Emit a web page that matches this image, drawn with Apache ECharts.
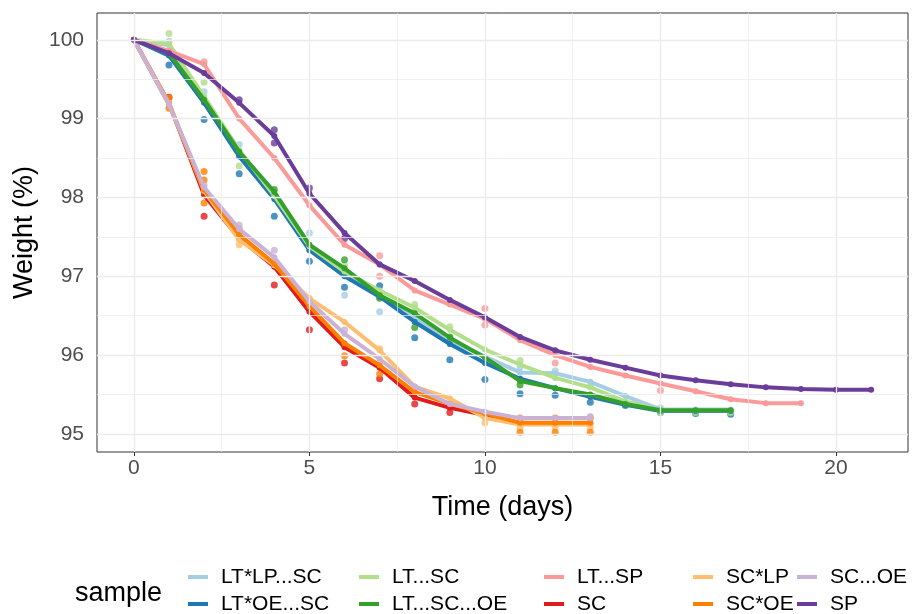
<!DOCTYPE html>
<html><head><meta charset="utf-8">
<script src="https://cdn.jsdelivr.net/npm/echarts@6/dist/echarts.min.js"></script>
<style>html,body{margin:0;padding:0;background:#fff}#c{width:922px;height:614px}</style>
</head><body><div id="c"></div>
<script>
// ---- data ----
const sampleNames = ['LT*LP...SC','LT*OE...SC','LT...SC','LT...SC...OE','LT...SP','SC','SC*LP','SC*OE','SC...OE','SP'];
const sampleColors = ['#A6CEE3','#1F78B4','#B2DF8A','#33A02C','#FB9A99','#E31A1C','#FDBF6F','#FF7F00','#CAB2D6','#6A3D9A'];

const daysSC = [0,1,2,3,4,5,6,7,8,9,10,11,12,13];
const daysLT = [0,1,2,3,4,5,6,7,8,9,10,11,12,13,14,15,16,17];
const daysLTSP = [0,1,2,3,4,5,6,7,8,9,10,11,12,13,14,15,16,17,18,19];
const daysSP = [0,1,2,3,4,5,6,7,8,9,10,11,12,13,14,15,16,17,18,19,20,21];

// mean weight (%) lines
const meanLTLPSC = [100,99.93,99.26,98.56,98.00,97.37,97.04,96.76,96.47,96.19,95.98,95.78,95.77,95.66,95.48,95.31,95.31,95.31];
const meanLTOESC = [100,99.80,99.20,98.52,97.98,97.33,97.00,96.74,96.42,96.14,95.90,95.70,95.58,95.47,95.37,95.29,95.29,95.29];
const meanLTSC   = [100,99.95,99.28,98.60,98.02,97.38,97.06,96.82,96.60,96.32,96.07,95.88,95.71,95.59,95.41,95.30,95.30,95.30];
const meanLTSCOE = [100,99.83,99.24,98.58,98.07,97.40,97.10,96.76,96.53,96.22,95.97,95.67,95.58,95.50,95.38,95.30,95.30,95.30];
const meanLTSP   = [100,99.86,99.69,99.00,98.50,97.90,97.40,97.15,96.82,96.64,96.46,96.19,96.00,95.85,95.74,95.64,95.54,95.44,95.39,95.39];
const meanSC     = [100,99.20,98.03,97.48,97.12,96.55,96.10,95.84,95.46,95.33,95.24,95.14,95.13,95.13];
const meanSCLP   = [100,99.20,98.08,97.46,97.14,96.72,96.42,96.06,95.60,95.45,95.20,95.12,95.12,95.12];
const meanSCOE   = [100,99.18,98.10,97.53,97.16,96.62,96.15,95.87,95.53,95.38,95.26,95.14,95.14,95.14];
const meanSCdOE  = [100,99.18,98.13,97.60,97.24,96.68,96.27,95.95,95.60,95.38,95.28,95.20,95.20,95.20];
const meanSP     = [100,99.83,99.58,99.20,98.78,98.05,97.55,97.15,96.94,96.70,96.48,96.23,96.06,95.94,95.84,95.74,95.68,95.63,95.59,95.57,95.56,95.56];

// visible replicate points [day, weight]
const dotsLTLPSC = [[1,99.98],[2,99.34],[3,98.67],[3,98.57],[5,97.55],[6,96.76],[7,96.55],[11,95.85],[12,95.80],[13,95.60],[15,95.33]];
const dotsLTOESC = [[1,99.68],[2,98.99],[3,98.30],[4,97.76],[5,97.19],[6,96.86],[7,96.88],[8,96.22],[9,95.94],[10,95.69],[11,95.51],[12,95.49],[13,95.40],[14,95.36],[15,95.27],[16,95.26],[17,95.25]];
const dotsLTSC   = [[1,100.08],[2,99.46],[3,98.40],[6,97.14],[8,96.64],[9,96.36],[11,95.93],[15,95.27],[16,95.27],[17,95.27]];
const dotsLTSCOE = [[4,98.10],[6,97.21],[7,96.72],[8,96.35],[9,96.23],[11,95.62]];
const dotsLTSP   = [[2,99.72],[7,97.26],[7,97.00],[10,96.59],[10,96.38],[12,95.90],[15,95.55]];
const dotsSC     = [[1,99.27],[2,97.76],[4,96.89],[5,96.32],[6,95.90],[7,95.70],[8,95.38],[9,95.27]];
const dotsSCLP   = [[3,97.40],[5,96.72],[7,96.08],[10,95.14],[11,95.08],[12,95.08],[13,95.08]];
const dotsSCOE   = [[1,99.26],[1,99.13],[2,98.33],[2,98.22],[2,97.93],[3,97.60],[6,95.99],[7,95.76],[11,95.02],[12,95.02],[13,95.02],[11,95.20],[12,95.20],[13,95.20]];
const dotsSCdOE  = [[2,98.15],[3,97.65],[4,97.33],[6,96.32],[13,95.22]];
const dotsSP     = [[3,99.24],[4,98.86],[4,98.69],[5,98.12],[6,97.48]];

const xMajor = [0,5,10,15,20];
const xMinor = [2.5,7.5,12.5,17.5];
const yMajor = [95,96,97,98,99,100];
const yMinor = [95.5,96.5,97.5,98.5,99.5];

const legendCols = [['LT*LP...SC','LT*OE...SC'],['LT...SC','LT...SC...OE'],['LT...SP','SC'],['SC*LP','SC*OE'],['SC...OE','SP']];

// ---- build ----
const meanSets = [meanLTLPSC,meanLTOESC,meanLTSC,meanLTSCOE,meanLTSP,meanSC,meanSCLP,meanSCOE,meanSCdOE,meanSP];
const daySets = [daysLT,daysLT,daysLT,daysLT,daysLTSP,daysSC,daysSC,daysSC,daysSC,daysSP];
const dotSets = [dotsLTLPSC,dotsLTOESC,dotsLTSC,dotsLTSCOE,dotsLTSP,dotsSC,dotsSCLP,dotsSCOE,dotsSCdOE,dotsSP];
const FONT = '"Liberation Sans", Arial, sans-serif';

const series = [];
sampleNames.forEach((n,i)=>{
  series.push({
    type:'line', name:n, z:3+i*0.01,
    data: daySets[i].map((d,k)=>[d, meanSets[i][k]]),
    symbol:'circle', symbolSize:6, showSymbol:true,
    lineStyle:{color:sampleColors[i], width:4},
    itemStyle:{color:sampleColors[i]},
    animation:false, silent:true
  });
});
sampleNames.forEach((n,i)=>{
  series.push({
    type:'scatter', name:n, z:2,
    data: dotSets[i], symbolSize:7,
    itemStyle:{color:sampleColors[i], opacity:0.8},
    animation:false, silent:true
  });
});
// grid lines via markLine
const gl = (arr, axis, w) => arr.map(v=>({[axis]:v, lineStyle:{color:'#EBEBEB', width:w, type:'solid'}}));
series.push({
  type:'scatter', name:'_grid', data:[], z:1, silent:true, animation:false,
  markLine:{symbol:['none','none'], silent:true, animation:false, label:{show:false},
    data:[...gl(xMinor,'xAxis',0.7),...gl(yMinor,'yAxis',0.7),...gl(xMajor,'xAxis',1.4),...gl(yMajor,'yAxis',1.4)]}
});

const legendLefts = [188,359,544,693,797];
const option = {
  backgroundColor:'#ffffff',
  animation:false,
  title:{text:'sample', left:75, top:580, padding:0, textStyle:{fontSize:27, fontWeight:'normal', color:'#000', fontFamily:FONT}},
  grid:{left:97, right:14, top:13, bottom:162, show:true, borderColor:'#333333', borderWidth:1, backgroundColor:'#ffffff'},
  xAxis:{type:'value', min:-1.05, max:22.05,
    name:'Time (days)', nameLocation:'middle', nameGap:42,
    nameTextStyle:{fontSize:27, color:'#000', fontFamily:FONT},
    axisLine:{show:false},
    axisTick:{show:true, length:4, lineStyle:{color:'#333333'}, customValues:xMajor},
    axisLabel:{customValues:xMajor, fontSize:21, color:'#4D4D4D', margin:6, fontFamily:FONT},
    splitLine:{show:false}},
  yAxis:{type:'value', min:94.77, max:100.34,
    name:'Weight (%)', nameLocation:'middle', nameGap:53, nameRotate:90,
    nameTextStyle:{fontSize:27, color:'#000', fontFamily:FONT},
    axisLine:{show:false},
    axisTick:{show:true, length:4, lineStyle:{color:'#333333'}, customValues:yMajor},
    axisLabel:{customValues:yMajor, fontSize:21, color:'#4D4D4D', margin:13, fontFamily:FONT},
    splitLine:{show:false}},
  legend: legendCols.map((c,i)=>({
    data:c, orient:'vertical', left:legendLefts[i], top:566, padding:0, height:60,
    itemWidth:20, itemHeight:4, itemGap:5, icon:'rect', selectedMode:false,
    textStyle:{fontSize:21, lineHeight:22, color:'#000', fontFamily:FONT, padding:[0,0,0,8]}
  })),
  series
};
echarts.init(document.getElementById('c'), null, {renderer:'canvas'}).setOption(option);
</script></body></html>
